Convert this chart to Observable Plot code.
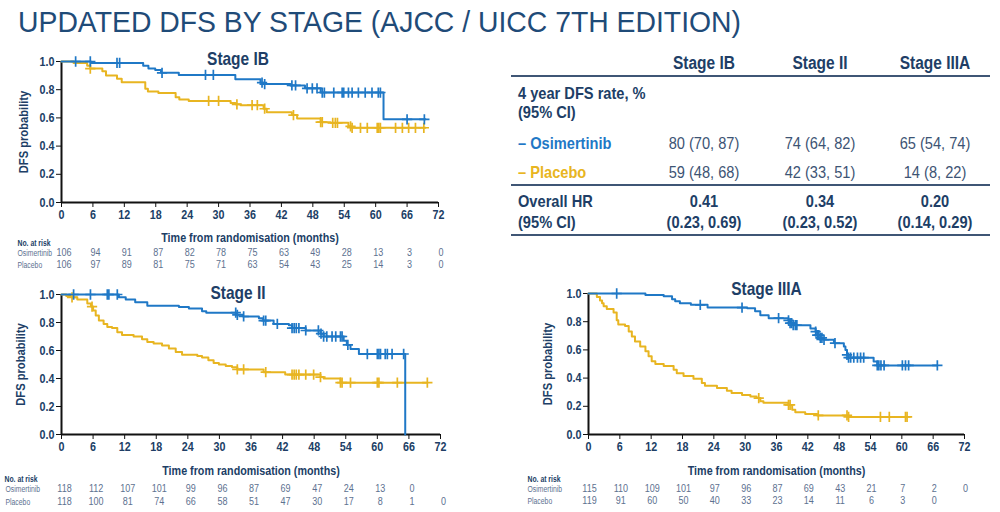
<!DOCTYPE html>
<html><head><meta charset="utf-8">
<script src="https://cdn.jsdelivr.net/npm/d3@7"></script>
<script src="https://cdn.jsdelivr.net/npm/@observablehq/plot@0.6"></script>
<style>
body{margin:0;background:#fff;}
#root{position:relative;width:1000px;height:512px;overflow:hidden;font-family:"Liberation Sans",Arial,sans-serif;}
.abs{position:absolute;white-space:nowrap;line-height:1;}
.c{transform:translate(-50%,-50%) scaleX(0.86);}
.l{transform:translate(0,-50%) scaleX(0.86);transform-origin:left center;}
.panel{position:absolute;}
.panel svg{overflow:visible;}
</style></head><body><div id="root"></div>
<script>
// ---------- data ----------
const chartTitle = "UPDATED DFS BY STAGE (AJCC / UICC 7TH EDITION)";
const stages = ["Stage IB", "Stage II", "Stage IIIA"];
const osiRate = ["80 (70, 87)", "74 (64, 82)", "65 (54, 74)"];
const plaRate = ["59 (48, 68)", "42 (33, 51)", "14 (8, 22)"];
const hrValue = ["0.41", "0.34", "0.20"];
const hrCI = ["(0.23, 0.69)", "(0.23, 0.52)", "(0.14, 0.29)"];
const monthTicks = [0, 6, 12, 18, 24, 30, 36, 42, 48, 54, 60, 66, 72];
const probTicks = [0, 0.2, 0.4, 0.6, 0.8, 1.0];

// Stage IB
const ibOsiT = [0, 5.6, 15.6, 16.6, 17.9, 19.0, 22.4, 33.2, 38.0, 38.6, 43.7, 46.5, 49.5, 61.5, 69.5];
const ibOsiS = [1.0, 0.99, 0.97, 0.95, 0.94, 0.92, 0.905, 0.875, 0.85, 0.84, 0.83, 0.81, 0.78, 0.59, 0.59];
const ibOsiCens = [2.7, 5.5, 10.6, 11.1, 19.2, 27.5, 29.0, 38.3, 38.8, 44.0, 44.7, 46.9, 47.9, 48.8, 49.8, 50.2, 52.0, 53.6, 53.9, 54.8, 55.5, 56.7, 58.0, 59.3, 60.5, 60.9, 66.0, 69.3];
const ibPlaT = [0, 2.3, 4.9, 5.5, 7.8, 8.5, 10.6, 11.5, 16.0, 16.5, 18.5, 21.8, 22.5, 24.3, 32.3, 33.2, 34.2, 38.6, 39.2, 44.0, 45.0, 49.5, 51.4, 54.8, 55.3, 69.5];
const ibPlaS = [1.0, 0.99, 0.97, 0.95, 0.93, 0.90, 0.877, 0.853, 0.807, 0.788, 0.776, 0.747, 0.73, 0.72, 0.705, 0.696, 0.69, 0.665, 0.64, 0.62, 0.595, 0.57, 0.565, 0.54, 0.53, 0.53];
const ibPlaCens = [5.5, 28.1, 30.0, 33.5, 36.4, 37.4, 38.8, 44.3, 49.5, 49.8, 51.8, 52.3, 52.7, 55.2, 55.5, 57.1, 58.4, 60.3, 60.6, 60.9, 63.8, 65.1, 66.3, 67.6, 69.2];
const ibRiskOsi = [106, 94, 91, 87, 82, 78, 75, 63, 49, 28, 13, 3, 0];
const ibRiskPla = [106, 97, 89, 81, 75, 71, 63, 54, 43, 25, 14, 3, 0];

// Stage II
const iiOsiT = [0, 10.9, 12.2, 14.0, 16.3, 22.3, 24.2, 26.7, 27.5, 33.2, 34.5, 37.5, 38.3, 40.3, 43.2, 43.8, 46.4, 49.2, 49.8, 53.6, 54.2, 54.9, 56.5, 65.3];
const iiOsiS = [1.0, 0.98, 0.965, 0.945, 0.92, 0.91, 0.90, 0.88, 0.87, 0.855, 0.843, 0.83, 0.814, 0.79, 0.78, 0.76, 0.743, 0.72, 0.70, 0.67, 0.64, 0.61, 0.575, 0.0];
const iiOsiCens = [2.3, 5.5, 8.7, 9.0, 10.6, 33.1, 33.4, 34.6, 38.4, 38.8, 41.0, 43.8, 44.2, 44.6, 45.1, 46.4, 48.8, 49.3, 49.8, 50.4, 51.4, 52.1, 53.0, 53.3, 54.4, 58.1, 60.0, 60.3, 60.6, 61.5, 61.9, 62.8, 65.0];
const iiPlaT = [0, 0.9, 2.0, 3.0, 4.9, 5.6, 6.0, 6.5, 7.1, 8.0, 8.7, 9.6, 10.6, 11.5, 13.7, 15.3, 16.3, 17.5, 19.1, 20.4, 21.7, 22.9, 25.8, 26.7, 27.9, 28.9, 29.9, 31.2, 32.4, 33.4, 38.4, 42.5, 49.2, 49.8, 53.0, 69.5];
const iiPlaS = [1.0, 0.99, 0.98, 0.965, 0.935, 0.914, 0.886, 0.85, 0.814, 0.79, 0.767, 0.76, 0.73, 0.71, 0.70, 0.68, 0.66, 0.65, 0.635, 0.615, 0.59, 0.57, 0.56, 0.55, 0.53, 0.51, 0.50, 0.49, 0.48, 0.465, 0.445, 0.428, 0.41, 0.40, 0.37, 0.37];
const iiPlaCens = [2.0, 5.8, 33.4, 34.6, 38.8, 43.8, 44.2, 44.6, 45.1, 46.4, 47.9, 49.2, 53.0, 53.3, 54.9, 60.0, 60.3, 63.8, 69.5];
const iiRiskOsi = [118, 112, 107, 101, 99, 96, 87, 69, 47, 24, 13, 0];
const iiRiskPla = [118, 100, 81, 74, 66, 58, 51, 47, 30, 17, 8, 1, 0];

// Stage IIIA
const iiiaOsiT = [0, 10.9, 14.4, 16.0, 16.6, 17.5, 19.6, 22.8, 30.4, 31.9, 32.9, 34.5, 38.3, 38.6, 39.2, 42.5, 43.5, 43.8, 44.4, 45.1, 47.0, 48.9, 49.2, 49.5, 49.8, 54.6, 55.3, 66.8];
const iiiaOsiS = [1.0, 0.99, 0.98, 0.96, 0.945, 0.93, 0.92, 0.90, 0.895, 0.875, 0.845, 0.825, 0.81, 0.79, 0.775, 0.752, 0.73, 0.705, 0.685, 0.672, 0.648, 0.625, 0.60, 0.565, 0.545, 0.518, 0.49, 0.49];
const iiiaOsiCens = [5.4, 21.4, 29.4, 36.4, 38.3, 38.6, 38.9, 39.2, 39.6, 39.9, 43.5, 43.8, 44.1, 44.4, 44.7, 45.1, 47.2, 49.5, 49.8, 50.2, 50.8, 51.5, 52.1, 52.7, 55.3, 55.6, 56.0, 56.6, 60.1, 60.7, 61.3, 66.8];
const iiiaPlaT = [0, 1.6, 2.2, 2.6, 2.9, 3.5, 4.8, 5.4, 5.7, 7.0, 7.7, 8.3, 8.9, 9.9, 10.9, 11.5, 12.1, 12.8, 14.4, 16.3, 16.9, 18.2, 20.1, 21.7, 22.3, 24.6, 26.5, 27.4, 29.4, 31.0, 32.2, 32.9, 33.5, 38.3, 39.0, 39.6, 41.5, 43.8, 49.8, 61.0];
const iiiaPlaS = [1.0, 0.975, 0.95, 0.93, 0.91, 0.89, 0.865, 0.81, 0.78, 0.77, 0.73, 0.695, 0.66, 0.625, 0.59, 0.555, 0.52, 0.50, 0.485, 0.46, 0.435, 0.415, 0.395, 0.365, 0.345, 0.33, 0.31, 0.295, 0.28, 0.27, 0.258, 0.235, 0.225, 0.21, 0.175, 0.157, 0.145, 0.135, 0.125, 0.125];
const iiiaPlaCens = [32.6, 38.3, 38.6, 44.0, 49.5, 49.8, 55.9, 57.6, 60.7, 61.0];
const iiiaRiskOsi = [115, 110, 109, 101, 97, 96, 87, 69, 43, 21, 7, 2, 0];
const iiiaRiskPla = [119, 91, 60, 50, 40, 33, 23, 14, 11, 6, 3, 0];

// ---------- style ----------
const NAVY = "#203e66";
const TITLE = "#1f4b78";
const GRAY = "#5d7190";
const BLUE = "#1f78c6";
const GOLD = "#e8b521";
const FONT = "'Liberation Sans', Arial, sans-serif";
const rowLabels = ["No. at risk", "Osimertinib", "Placebo"];

const root = document.getElementById("root");

function stepAt(T, S, t) {
  const i = d3.bisectRight(T, t) - 1;
  return S[Math.max(0, i)];
}
const toRows = (T, S) => T.map((t, i) => ({t, s: S[i]}));

// emulate a condensed face: scale each SVG text horizontally about its anchor point
function squeeze(svg) {
  svg.querySelectorAll("text").forEach(el => {
    const f = rowLabels.includes(el.textContent) ? 0.72 : 0.86;
    const tr = el.getAttribute("transform");
    if (tr && /translate/.test(tr)) {
      el.setAttribute("transform", `${tr} scale(${f},1)`);
    } else {
      const w = el.getComputedTextLength();
      if (w > 0) {
        el.setAttribute("textLength", (w * f).toFixed(2));
        el.setAttribute("lengthAdjust", "spacingAndGlyphs");
      }
    }
  });
}

function panel(cfg) {
  const {name, osiT, osiS, osiC, plaT, plaS, plaC, riskOsi, riskPla,
    left, top, width, height, mt, mr, mb, ml, titleDx, titleDy, axisDy, ylabDx,
    noDx, labDx, noDy, osiDy, plaDy, riskDx} = cfg;
  const T = {lineAnchor: "middle", fill: NAVY};
  const fig = Plot.plot({
    width, height, marginTop: mt, marginRight: mr, marginBottom: mb, marginLeft: ml,
    x: {domain: [0, 72]},
    y: {domain: [0, 1]},
    style: {fontFamily: FONT, background: "transparent", overflow: "visible"},
    marks: [
      Plot.axisX({ticks: monthTicks, tickSize: 5, tickPadding: 3, stroke: "#111", fill: NAVY,
        fontSize: 12.5, fontWeight: "bold", label: null}),
      Plot.axisY({ticks: probTicks, tickFormat: d3.format(".1f"), tickSize: 5, tickPadding: 2,
        stroke: "#111", fill: NAVY, fontSize: 12.5, fontWeight: "bold", label: null}),
      Plot.ruleX([0], {stroke: "#111", strokeWidth: 2}),
      Plot.ruleY([0], {stroke: "#111", strokeWidth: 2}),
      Plot.line(toRows(plaT, plaS), {x: "t", y: "s", curve: "step-after", stroke: GOLD, strokeWidth: 2}),
      Plot.line(toRows(osiT, osiS), {x: "t", y: "s", curve: "step-after", stroke: BLUE, strokeWidth: 2}),
      Plot.dot(plaC, {x: d => d, y: d => stepAt(plaT, plaS, d), symbol: "plus", r: 3.4, stroke: GOLD, strokeWidth: 1.7}),
      Plot.dot(osiC, {x: d => d, y: d => stepAt(osiT, osiS, d), symbol: "plus", r: 3.4, stroke: BLUE, strokeWidth: 1.7}),
      Plot.text([name], {...T, frameAnchor: "top", textAnchor: "middle", dx: titleDx, dy: titleDy, fontSize: 18, fontWeight: "bold"}),
      Plot.text(["Time from randomisation (months)"], {...T, frameAnchor: "bottom", textAnchor: "middle", dy: axisDy, fontSize: 12.5, fontWeight: "bold"}),
      Plot.text(["DFS probability"], {...T, frameAnchor: "left", textAnchor: "middle", rotate: -90, dx: ylabDx, fontSize: 13, fontWeight: "bold"}),
      Plot.text([rowLabels[0]], {...T, frameAnchor: "bottom-left", dx: noDx, dy: noDy, textAnchor: "start", fontSize: 9.5, fontWeight: "bold"}),
      Plot.text([rowLabels[1]], {...T, frameAnchor: "bottom-left", dx: labDx, dy: osiDy, textAnchor: "start", fontSize: 9.5, fill: GRAY}),
      Plot.text([rowLabels[2]], {...T, frameAnchor: "bottom-left", dx: labDx, dy: plaDy, textAnchor: "start", fontSize: 9.5, fill: GRAY}),
      Plot.text(riskOsi, {...T, x: (d, i) => monthTicks[i], frameAnchor: "bottom", textAnchor: "middle", dx: riskDx, dy: osiDy, text: d => String(d), fontSize: 10.5, fill: GRAY}),
      Plot.text(riskPla, {...T, x: (d, i) => monthTicks[i], frameAnchor: "bottom", textAnchor: "middle", dx: riskDx, dy: plaDy, text: d => String(d), fontSize: 10.5, fill: GRAY})
    ]
  });
  const wrap = document.createElement("div");
  wrap.className = "panel";
  wrap.style.left = left + "px";
  wrap.style.top = top + "px";
  wrap.appendChild(fig);
  root.appendChild(wrap);
  squeeze(fig);
}

// title
const t = document.createElement("div");
t.className = "abs";
t.textContent = chartTitle;
Object.assign(t.style, {left: "18px", top: "7px", fontFamily: FONT,
  fontSize: "30px", lineHeight: "30px", color: TITLE, transform: "scaleX(0.945)", transformOrigin: "left top"});
root.appendChild(t);

panel({name: stages[0], osiT: ibOsiT, osiS: ibOsiS, osiC: ibOsiCens, plaT: ibPlaT, plaS: ibPlaS, plaC: ibPlaCens,
  riskOsi: ibRiskOsi, riskPla: ibRiskPla,
  left: 0, top: 40, width: 460, height: 232, mt: 21, mr: 22, mb: 70, ml: 61,
  titleDx: -12, titleDy: -2, axisDy: 35, ylabDx: -38, noDx: -44, labDx: -44, noDy: 40, osiDy: 50, plaDy: 62, riskDx: 2.5});

panel({name: stages[1], osiT: iiOsiT, osiS: iiOsiS, osiC: iiOsiCens, plaT: iiPlaT, plaS: iiPlaS, plaC: iiPlaCens,
  riskOsi: iiRiskOsi, riskPla: iiRiskPla,
  left: 0, top: 272, width: 460, height: 240, mt: 22, mr: 20, mb: 78, ml: 61,
  titleDx: -13, titleDy: -1, axisDy: 36, ylabDx: -41, noDx: -57, labDx: -56, noDy: 44, osiDy: 54, plaDy: 67, riskDx: 3});

panel({name: stages[2], osiT: iiiaOsiT, osiS: iiiaOsiS, osiC: iiiaOsiCens, plaT: iiiaPlaT, plaS: iiiaPlaS, plaC: iiiaPlaCens,
  riskOsi: iiiaRiskOsi, riskPla: iiiaRiskPla,
  left: 500, top: 272, width: 480, height: 240, mt: 21, mr: 16, mb: 78, ml: 88,
  titleDx: -10, titleDy: -4, axisDy: 36, ylabDx: -41, noDx: -61, labDx: -61, noDy: 44, osiDy: 54, plaDy: 66, riskDx: 1});

// ---------- table ----------
const colX = [704, 820, 935];
function txt(s, x, y, opts, cls) {
  const d = document.createElement("div");
  d.className = "abs " + (cls || "c");
  d.textContent = s;
  d.style.left = x + "px";
  d.style.top = y + "px";
  Object.assign(d.style, opts || {});
  root.appendChild(d);
}
function hline(y) {
  const d = document.createElement("div");
  Object.assign(d.style, {position: "absolute", left: "511px", width: "479px", top: (y - 1) + "px", height: "2px", background: "#3f5675"});
  root.appendChild(d);
}
const head = {fontSize: "18px", fontWeight: "bold", color: NAVY};
const val = {fontSize: "17px", color: "#3d5474"};
const lab = {fontSize: "17px", fontWeight: "bold", color: NAVY};
const bold = {fontSize: "17px", fontWeight: "bold", color: NAVY};
stages.forEach((s, i) => txt(s, colX[i], 63, head));
hline(76);
txt("4 year DFS rate, %", 518, 93, lab, "l");
txt("(95% CI)", 518, 112, lab, "l");
txt("– Osimertinib", 518, 143, Object.assign({}, lab, {color: BLUE}), "l");
txt("– Placebo", 518, 172, Object.assign({}, lab, {color: GOLD}), "l");
osiRate.forEach((s, i) => txt(s, colX[i], 143, val));
plaRate.forEach((s, i) => txt(s, colX[i], 172, val));
hline(185);
txt("Overall HR", 518, 201, lab, "l");
txt("(95% CI)", 518, 222, lab, "l");
hrValue.forEach((s, i) => txt(s, colX[i], 201, bold));
hrCI.forEach((s, i) => txt(s, colX[i], 222, bold));
hline(235);
</script>
</body></html>
